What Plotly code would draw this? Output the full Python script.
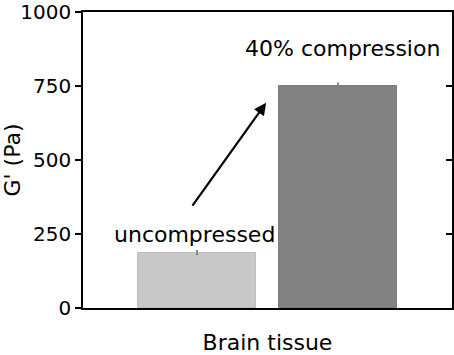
import plotly.graph_objects as go

categories = ["uncompressed", "40% compression"]
values = [187, 750]
errors = [6, 9]
bar_colors = ["#c8c8c8", "#828282"]
y_ticks = [0, 250, 500, 750, 1000]

# arrow (tail -> head) in data units
arrow_tail = (-0.04, 341)
arrow_head = (0.49, 693)

FONT = "DejaVu Sans"

fig = go.Figure()
fig.add_trace(go.Bar(
    x=categories, y=values, width=0.84,
    marker=dict(color=bar_colors, line=dict(color=["#bdbdbd", "#7a7a7a"], width=1)),
    error_y=dict(type="data", array=errors, visible=True, color="#808080", thickness=1.5, width=1),
    showlegend=False,
))
# invisible trace on secondary axis for inner right ticks
fig.add_trace(go.Scatter(x=categories, y=values, yaxis="y2", mode="markers",
                         marker=dict(opacity=0), showlegend=False, hoverinfo="skip"))

fig.update_layout(
    width=454, height=355,
    margin=dict(l=83, r=2, t=12, b=47, autoexpand=False),
    plot_bgcolor="white", paper_bgcolor="white",
    font=dict(family=FONT, color="black", size=20),
    xaxis=dict(range=[-0.809, 1.809], showline=True, linecolor="black", linewidth=1.5,
               mirror=True, ticks="", showticklabels=False, showgrid=False, zeroline=False,
               title=dict(text="Brain tissue", font=dict(size=22), standoff=29)),
    yaxis=dict(range=[0, 1000], tickvals=y_ticks, showline=True, linecolor="black",
               linewidth=1.5, ticks="outside", ticklen=6, tickwidth=1.5, tickcolor="black",
               showgrid=False, zeroline=False, tickfont=dict(size=20),
               title=dict(text="G' (Pa)", font=dict(size=22), standoff=4)),
    yaxis2=dict(range=[0, 1000], overlaying="y", side="right", tickvals=[250, 500, 750],
                ticks="inside", ticklen=6, tickwidth=1.5, tickcolor="black",
                showticklabels=False, showline=True, linecolor="black", linewidth=1.5,
                showgrid=False, zeroline=False),
    bargap=0,
)

fig.add_annotation(x=0, xref="x", y=201, yref="y", text=categories[0], showarrow=False,
                   font=dict(size=22), yanchor="bottom", xshift=-3)
fig.add_annotation(x=1, xref="x", y=828, yref="y", text=categories[1], showarrow=False,
                   font=dict(size=22), yanchor="bottom", xshift=5)
fig.add_annotation(x=arrow_head[0], y=arrow_head[1], xref="x", yref="y",
                   ax=arrow_tail[0], ay=arrow_tail[1], axref="x", ayref="y",
                   text="", showarrow=True, arrowhead=2, arrowsize=1.1, arrowwidth=2.2,
                   arrowcolor="black")

fig.write_html("out.html", config={"displayModeBar": False},
               post_script="document.body.style.margin='0';document.body.style.padding='0';")
